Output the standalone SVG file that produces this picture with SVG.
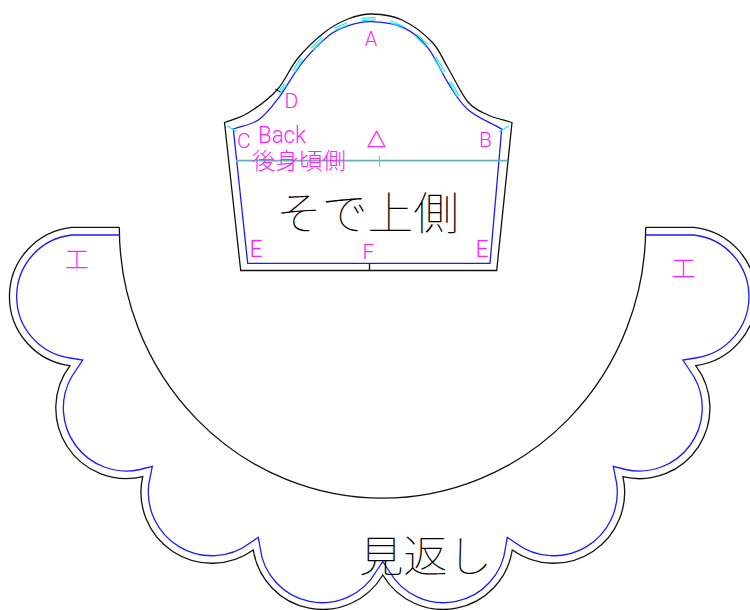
<svg xmlns="http://www.w3.org/2000/svg" width="750" height="610" viewBox="0 0 750 610">
<style>
.k{fill:none;stroke:#111;stroke-width:1.3}
.b{fill:none;stroke:#1a1aff;stroke-width:1.3}
.c{fill:none;stroke:#22e6f0;stroke-width:1.2}
.m{fill:#ff22ff;font-family:Roboto,"Liberation Sans",sans-serif;font-weight:300}
.j{fill:#ff22ff;font-family:"Noto Sans CJK JP",sans-serif;font-weight:300}
.t{fill:#000;font-family:"Noto Sans CJK JP",sans-serif;font-weight:100}
</style>
<rect width="750" height="610" fill="#fff"/>
<g id="sleeve">
<path class="k" d="M224.5 122.500C232.300 119.300 239.250 118.400 248 113C256.750 107.600 268.700 99.200 277 90C285.300 80.800 290 67.700 298 58C306 48.300 316.700 38.500 325 32C333.300 25.500 340.200 22 348 19C355.800 16 363 13.800 372 14C381 14.200 392 15.300 402 20C412 24.700 424.300 34 432 42C439.700 50 442 58 448 68C454 78 461.300 94.200 468 102C474.700 109.800 480.700 111.600 488 115C495.300 118.400 504 120 512 122.500L496.700 270.500H240.700Z"/>
<path class="b" d="M233.300 129C241.600 126 250.800 125.100 258.300 120C265.800 114.900 271.100 107.800 278.300 98.300C285.500 88.800 293.400 73.700 301.700 63.300C310 52.900 320.500 42.300 328.300 36C336.100 29.700 341.100 28.100 348.300 25.700C355.500 23.300 362.200 21.300 371.700 21.700C381.200 22.100 395.600 23.900 405 28.300C414.400 32.700 421.100 39.100 428.300 48.300C435.500 57.500 441.600 73 448.300 83.300C455 93.600 459.400 102.400 468.300 110C477.200 117.600 490.700 122.700 501.700 129L490 263.300H247.700Z"/>
<path fill="none" stroke="#66b2b2" stroke-width="1.7" d="M236 160.700H507.700"/>
<path class="k" d="M369.500 263.500V270.500M275.500 89L280.700 92.300"/>
<path class="c" d="M361.700 18.300L375.700 17.300M361.700 20.700L375.700 19.700M390.700 20.700L403.700 26.700M390 22.500L403.300 28.500M416.700 34.300L427.300 44.300M415.700 36.500L426 46.500M435.700 56.700L445 71.700M433.700 58L443 73M450.700 81L459 95.700M449 82L457.300 96.700M334 28.300L347.300 22.700M334.700 30.500L348 24.900M311 48.300L321.700 37.300M312.800 50L323.500 39M292.700 71L300.700 58.300M294.600 72.500L302.600 59.800M278.300 91.700L285 83.300M280 93L286.700 84.600M227.300 125.700L236.700 131.700M509 125.700L499 131.700M379.500 155.700V166.700"/>
</g>
<g id="sleeve-labels">
<text class="m" x="371" y="45.700" font-size="20" text-anchor="middle">A</text>
<text class="m" x="284.500" y="108.300" font-size="21">D</text>
<text class="m" x="237" y="147.500" font-size="21">C</text>
<text class="m" x="479" y="146.700" font-size="21">B</text>
<text class="m" x="258" y="143.300" font-size="23" textLength="48" lengthAdjust="spacingAndGlyphs">Back</text>
<text class="j" x="252" y="169" font-size="23" textLength="94" lengthAdjust="spacingAndGlyphs">後身頃側</text>
<text class="j" x="376.500" y="147" font-size="19" text-anchor="middle" stroke="#ff22ff" stroke-width="0.5">△</text>
<text class="m" x="249.500" y="257.300" font-size="23">E</text>
<text class="m" x="362.500" y="259.300" font-size="21">F</text>
<text class="m" x="475.500" y="257.300" font-size="23">E</text>
<text class="t" x="276" y="230" font-size="45" textLength="183" lengthAdjust="spacingAndGlyphs">そで上側</text>
</g>
<g id="facing">
<path class="k" d="M119.300 227.300H71.700A69.700 69.700 0 0 0 70 365.700A70.500 70.500 0 0 0 142.700 476.700A71 71 0 0 0 253.300 550A70 70 0 0 0 382.800 575A70 70 0 0 0 512.300 550A71 71 0 0 0 622.900 476.700A70.500 70.500 0 0 0 695.700 365.700A69.700 69.700 0 0 0 693.900 227.300H645.700"/>
<path class="k" d="M119.300 227.300A263.200 271 0 0 0 645.700 227.300"/>
<path class="b" d="M119.300 235H71.700A62 62 0 0 0 70 358L82.700 360L71.500 377A63 63 0 0 0 140 469.500L152.300 466.300L149 483A63.500 63.500 0 0 0 250 543L258.300 537.300L260 547A62.500 62.500 0 0 0 376.500 571L382.800 561.700L389.100 571A62.500 62.500 0 0 0 505.600 547L507.300 537.300L515.600 543A63.500 63.500 0 0 0 616.600 483L613.300 466.300L625.600 469.500A63 63 0 0 0 694.100 377L682.900 360L695.600 358A62 62 0 0 0 693.900 235H645.700"/>
</g>
<g id="facing-labels">
<text class="j" x="65" y="268" font-size="24">工</text>
<text class="j" x="671.500" y="277" font-size="24">工</text>
<text class="t" x="359" y="572" font-size="43" textLength="133" lengthAdjust="spacingAndGlyphs">見返し</text>
</g>
</svg>
